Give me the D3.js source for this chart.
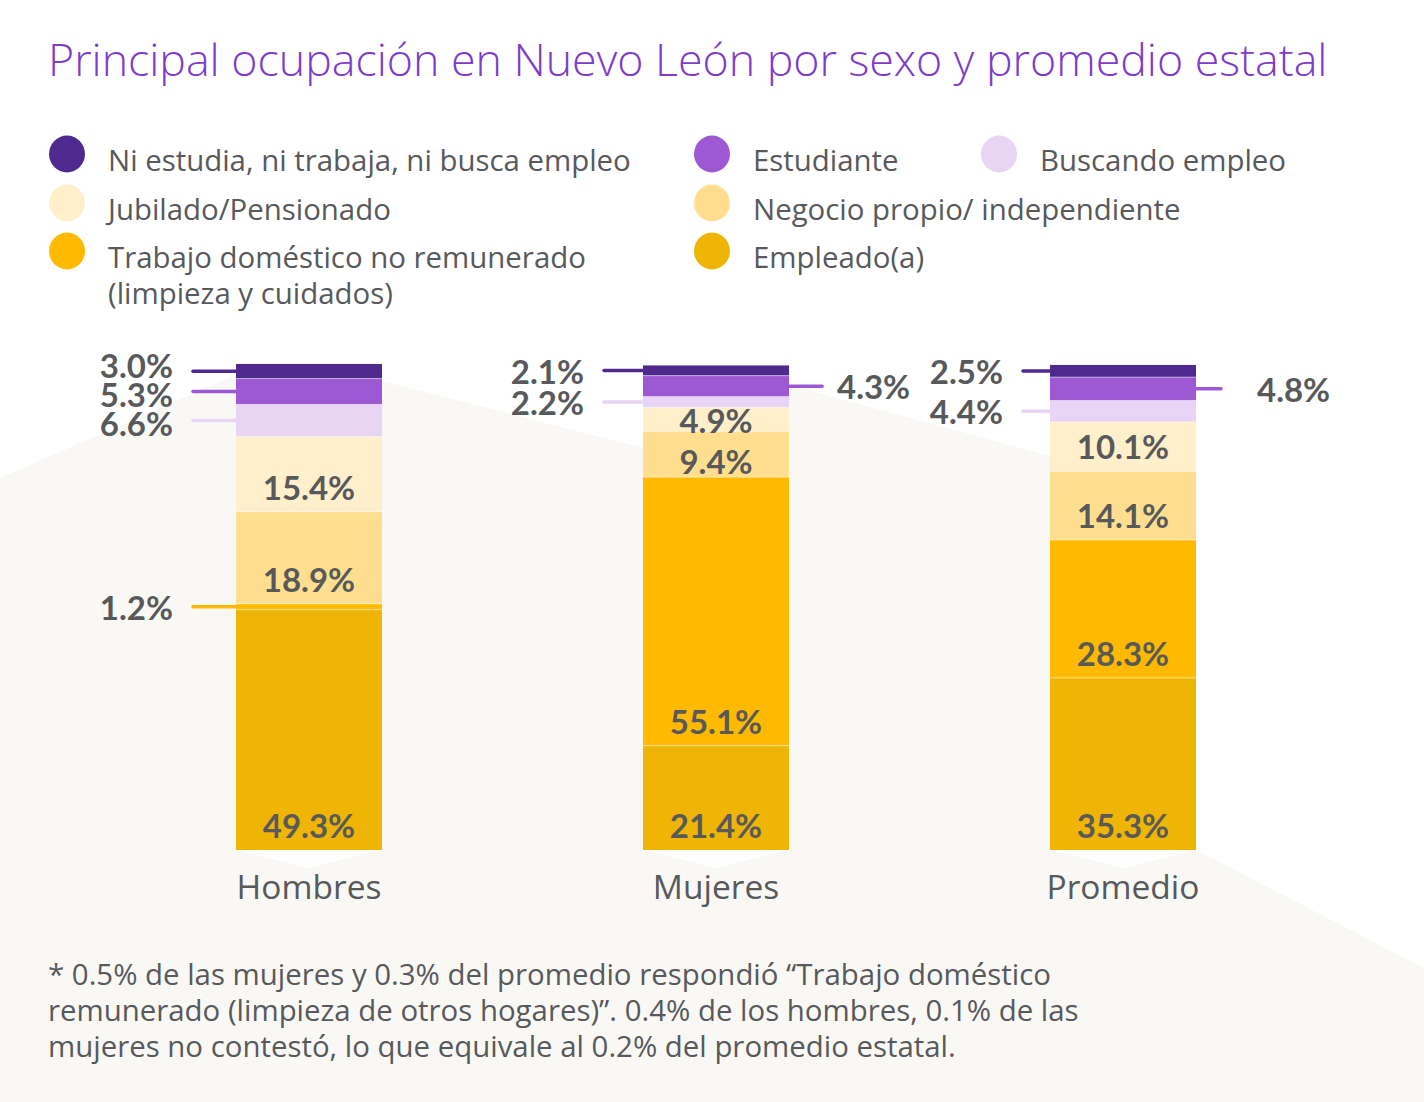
<!DOCTYPE html>
<html>
<head>
<meta charset="utf-8">
<script src="https://cdn.jsdelivr.net/npm/d3@7"></script>
<style>
  body { margin: 0; background: #fff; }
  svg { display: block; }
</style>
</head>
<body>
<script>
// groups on the x axis
var groups = ["Hombres", "Mujeres", "Promedio"];

// categories, bottom of the stack first
var categories = [
    "Empleado(a)",
    "Trabajo doméstico no remunerado (limpieza y cuidados)",
    "Negocio propio/ independiente",
    "Jubilado/Pensionado",
    "Buscando empleo",
    "Estudiante",
    "Ni estudia, ni trabaja, ni busca empleo"
];

// values per category, in the order of groups (%)
var empleado         = [49.3, 21.4, 35.3];
var trabajoDomestico = [1.2, 55.1, 28.3];
var negocioPropio    = [18.9, 9.4, 14.1];
var jubilado         = [15.4, 4.9, 10.1];
var buscandoEmpleo   = [6.6, 2.2, 4.4];
var estudiante       = [5.3, 4.3, 4.8];
var niEstudia        = [3.0, 2.1, 2.5];

var seriesValues = [empleado, trabajoDomestico, negocioPropio, jubilado,
                    buscandoEmpleo, estudiante, niEstudia];

var colors = ["#eeb505", "#ffba00", "#ffdf8f", "#ffefca", "#e8d4f5", "#9d58d4", "#4f2a8e"];

// legend, row by row
var legendRows = [
    [6, 5, 4],
    [3, 2],
    [1, 0]
];
var legendText = {
    1: ["Trabajo doméstico no remunerado", "(limpieza y cuidados)"]
};

var footnote = [
    "* 0.5% de las mujeres y 0.3% del promedio respondió \u201cTrabajo doméstico",
    "remunerado (limpieza de otros hogares)\u201d. 0.4% de los hombres, 0.1% de las",
    "mujeres no contestó, lo que equivale al 0.2% del promedio estatal."
];

var width = 1424,
    height = 1102,
    barWidth = 146,
    textColor = "#58595b";

// labels that sit to the right of the bar
var rightSide = { "Mujeres": [5], "Promedio": [5] };
var leaderLeft = { "Hombres": 43, "Mujeres": 39, "Promedio": 27 };
var leaderRight = { "Mujeres": [33, 15], "Promedio": [25, 36] };

var svg = d3.select("body")
    .append("svg")
    .attr("width", width)
    .attr("height", height);

var x = d3.scalePoint()
    .domain(groups)
    .range([309, 1123]);

var y = d3.scaleLinear()
    .domain([0, 100])
    .range([850, 362.5]);

// table for d3.stack
var table = groups.map(function(g, i) {
    var row = { group: g };
    categories.forEach(function(c, j) { row[c] = seriesValues[j][i]; });
    return row;
});

var stacked = d3.stack().keys(categories)(table);

//Background shape
var left = function(g) { return x(g) - barWidth / 2; };
var right = function(g) { return x(g) + barWidth / 2; };

var bgPoints = [
    [0, 478], [left("Hombres"), 375], [right("Hombres"), 381],
    [left("Mujeres"), 448], [right("Mujeres"), 385],
    [left("Promedio"), 456], [right("Promedio"), 456],
    [right("Promedio"), y(0)], [width, 968], [width, height], [0, height]
];
svg.append("polygon")
    .attr("points", bgPoints.map(function(p) { return p.join(","); }).join(" "))
    .attr("fill", "#f9f8f5");

// white notches under the bars
svg.selectAll(".notch")
    .data(groups)
    .enter()
    .append("polygon")
    .attr("class", "notch")
    .attr("points", function(g) {
        return [[left(g), y(0)], [right(g), y(0)], [x(g), y(0) + 18]]
            .map(function(p) { return p.join(","); }).join(" ");
    })
    .attr("fill", "#ffffff");

//Title
svg.append("text")
    .attr("x", 48)
    .attr("y", 76)
    .text("Principal ocupación en Nuevo León por sexo y promedio estatal")
    .attr("font-family", "'Open Sans', sans-serif")
    .attr("font-weight", 300)
    .attr("font-size", "44.7px")
    .attr("fill", "#7e3bcc");

//Legend
var legendX = [67, 712, 999],
    legendY = [154, 203, 251];

legendRows.forEach(function(row, r) {
    row.forEach(function(ci, c) {
        var gL = svg.append("g")
            .attr("transform", "translate(" + legendX[c] + "," + legendY[r] + ")");
        gL.append("ellipse")
            .attr("rx", 18)
            .attr("ry", 18.5)
            .attr("fill", colors[ci]);
        var lines = legendText[ci] || [categories[ci]];
        var t = gL.append("text")
            .attr("font-family", "'Open Sans', sans-serif")
            .attr("font-size", "29.4px")
            .attr("fill", textColor);
        lines.forEach(function(l, k) {
            t.append("tspan")
                .attr("x", 41)
                .attr("y", 17 + k * 36)
                .text(l);
        });
    });
});

//Create bars
var layers = svg.selectAll(".layer")
    .data(stacked)
    .enter()
    .append("g")
    .attr("class", "layer")
    .attr("fill", function(d, i) { return colors[i]; });

layers.selectAll("rect")
    .data(function(d) { return d; })
    .enter()
    .append("rect")
    .attr("x", function(d) { return left(d.data.group); })
    .attr("y", function(d) { return y(d[1]); })
    .attr("width", barWidth)
    .attr("height", function(d) { return y(d[0]) - y(d[1]); });

// faint separators between segments
layers.filter(function(d, i) { return i > 0; })
    .selectAll("line")
    .data(function(d) { return d; })
    .enter()
    .append("line")
    .attr("x1", function(d) { return left(d.data.group); })
    .attr("x2", function(d) { return right(d.data.group); })
    .attr("y1", function(d) { return y(d[0]); })
    .attr("y2", function(d) { return y(d[0]); })
    .attr("stroke", "#ffffff")
    .attr("stroke-opacity", 0.5)
    .attr("stroke-width", 1);

//Labels
var isOutside = function(ci, v) { return ci >= 4 || v < 2; };

var labelFont = function(sel) {
    sel.attr("font-family", "Lato, sans-serif")
        .attr("font-weight", 700)
        .attr("font-size", "33px")
        .attr("fill", textColor);
};

groups.forEach(function(g, gi) {
    var outsideL = [], outsideR = [];
    stacked.forEach(function(layer, ci) {
        var d = layer[gi];
        var v = seriesValues[ci][gi];
        var top = y(d[1]), bottom = y(d[0]), h = bottom - top;
        if (isOutside(ci, v)) {
            var onRight = (rightSide[g] || []).indexOf(ci) >= 0;
            var item = { ci: ci, v: v, ly: (top + bottom) / 2, cy: (top + bottom) / 2 + 2 };
            (onRight ? outsideR : outsideL).push(item);
        } else {
            var base = h < 30 ? bottom + 2 : (h < 47 ? bottom - 3 : bottom - 12);
            svg.append("text")
                .attr("x", x(g))
                .attr("y", base)
                .attr("text-anchor", "middle")
                .text(v.toFixed(1) + "%")
                .call(labelFont);
        }
    });

    // push stacked outside labels apart
    [outsideL, outsideR].forEach(function(list) {
        list.sort(function(a, b) { return a.cy - b.cy; });
        var minGap = 29;
        for (var it = 0; it < 20; it++) {
            for (var k = 1; k < list.length; k++) {
                var gap = list[k].cy - list[k - 1].cy;
                if (gap < minGap) {
                    var shift = (minGap - gap) / 2;
                    list[k - 1].cy -= shift;
                    list[k].cy += shift;
                }
            }
        }
    });

    outsideL.forEach(function(o) {
        var x1 = left(g) - leaderLeft[g];
        svg.append("line")
            .attr("x1", x1)
            .attr("x2", left(g))
            .attr("y1", o.ly)
            .attr("y2", o.ly)
            .attr("stroke", colors[o.ci])
            .attr("stroke-width", 3.5)
            .attr("stroke-linecap", "round");
        svg.append("text")
            .attr("x", x1 - 20)
            .attr("y", o.cy + 11)
            .attr("text-anchor", "end")
            .text(o.v.toFixed(1) + "%")
            .call(labelFont);
    });

    outsideR.forEach(function(o) {
        var len = leaderRight[g][0], gap = leaderRight[g][1];
        svg.append("line")
            .attr("x1", right(g))
            .attr("x2", right(g) + len)
            .attr("y1", o.ly)
            .attr("y2", o.ly)
            .attr("stroke", colors[o.ci])
            .attr("stroke-width", 3.5)
            .attr("stroke-linecap", "round");
        svg.append("text")
            .attr("x", right(g) + len + gap)
            .attr("y", o.cy + 11)
            .attr("text-anchor", "start")
            .text(o.v.toFixed(1) + "%")
            .call(labelFont);
    });
});

//Group names
svg.selectAll(".groupName")
    .data(groups)
    .enter()
    .append("text")
    .attr("class", "groupName")
    .attr("x", function(g) { return x(g); })
    .attr("y", 899)
    .attr("text-anchor", "middle")
    .text(function(g) { return g; })
    .attr("font-family", "'Open Sans', sans-serif")
    .attr("font-size", "33.5px")
    .attr("fill", textColor);

//Footnote
svg.selectAll(".foot")
    .data(footnote)
    .enter()
    .append("text")
    .attr("class", "foot")
    .attr("x", 48)
    .attr("y", function(d, i) { return 985 + i * 36; })
    .text(function(d) { return d; })
    .attr("font-family", "'Open Sans', sans-serif")
    .attr("font-size", "29.4px")
    .attr("fill", textColor);
</script>
</body>
</html>
